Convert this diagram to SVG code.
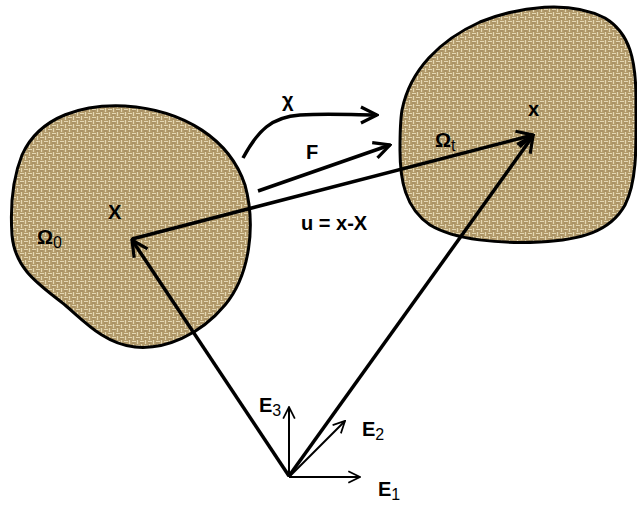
<svg xmlns="http://www.w3.org/2000/svg" width="637" height="506" viewBox="0 0 637 506">
<defs>
<pattern id="weave" width="8" height="8" patternUnits="userSpaceOnUse">
<rect width="8" height="8" fill="#b29a6a"/>
<path d="M0,1.5 H4 M4,5.5 H8 M1.5,4 V8 M5.5,0 V4" stroke="#ece2c0" stroke-width="1.2" opacity="0.85"/>
<path d="M0,3 H3 M4,7 H7" stroke="#8a7450" stroke-width="0.8" opacity="0.5"/>
</pattern>
<marker id="ah" viewBox="0 0 12 12" refX="11" refY="6" markerWidth="5.5" markerHeight="5.5" orient="auto" markerUnits="strokeWidth">
<path d="M1,1 L11,6 L1,11" fill="none" stroke="#000" stroke-width="2"/>
</marker>
<marker id="ahs" viewBox="0 0 12 12" refX="11" refY="6" markerWidth="7" markerHeight="7" orient="auto" markerUnits="strokeWidth">
<path d="M1,1 L11,6 L1,11" fill="none" stroke="#000" stroke-width="1.5"/>
</marker>
</defs>
<style>
.blob{fill:url(#weave);stroke:#000;stroke-width:3}
.main{fill:none;stroke:#000;stroke-width:3.5;marker-end:url(#ah)}
.base{fill:none;stroke:#000;stroke-width:2;marker-end:url(#ahs)}
.t{font-family:"Liberation Sans",Arial,sans-serif;font-weight:bold;font-size:20px;fill:#000}
.s{font-family:"Liberation Sans",Arial,sans-serif;font-weight:normal;font-size:16px;fill:#000}
</style>
<g id="omega0">
<path class="blob" d="M22,155 C40,115 85,104 125,106 C185,110 230,140 245,185 C256,225 250,275 225,305 C200,335 165,350 135,347 C105,344 85,322 65,305 C40,285 15,270 12,235 C10,205 12,180 22,155 Z"/>
</g>
<g id="omegat">
<path class="blob" d="M402,110 C410,70 440,40 480,22 C520,6 570,0 605,18 C630,33 636,60 636,100 C636,140 638,180 625,205 C610,232 580,240 540,242 C500,244 455,240 430,225 C405,208 400,180 400,150 C400,135 400,122 402,110 Z"/>
</g>
<g id="connectors">
<path class="main" d="M243,158 C258,130 272,117 300,115 C330,113 350,115 377,115"/>
<line class="main" x1="258" y1="191" x2="390" y2="145"/>
<line class="main" x1="132" y1="239" x2="533" y2="135"/>
<line class="main" x1="289" y1="476" x2="132" y2="240"/>
<line class="main" x1="289" y1="476" x2="533" y2="136"/>
<line class="base" x1="289" y1="477" x2="360" y2="477"/>
<line class="base" x1="289" y1="477" x2="289" y2="407"/>
<line class="base" x1="289" y1="477" x2="345" y2="421"/>
</g>
<g id="labels">
<text class="t" x="282" y="107">χ</text>
<text class="t" x="306" y="159">F</text>
<text class="t" x="301" y="230">u = x-X</text>
<text class="t" x="108" y="219">X</text>
<text class="t" x="528" y="116">x</text>
<text class="t" x="37" y="244">Ω<tspan class="s" dy="4">0</tspan></text>
<text class="t" x="435" y="147">Ω<tspan class="s" dy="4">t</tspan></text>
<text class="t" x="259" y="412">E<tspan class="s" dy="4">3</tspan></text>
<text class="t" x="362" y="436">E<tspan class="s" dy="4">2</tspan></text>
<text class="t" x="378" y="496">E<tspan class="s" dy="4">1</tspan></text>
</g>
</svg>
